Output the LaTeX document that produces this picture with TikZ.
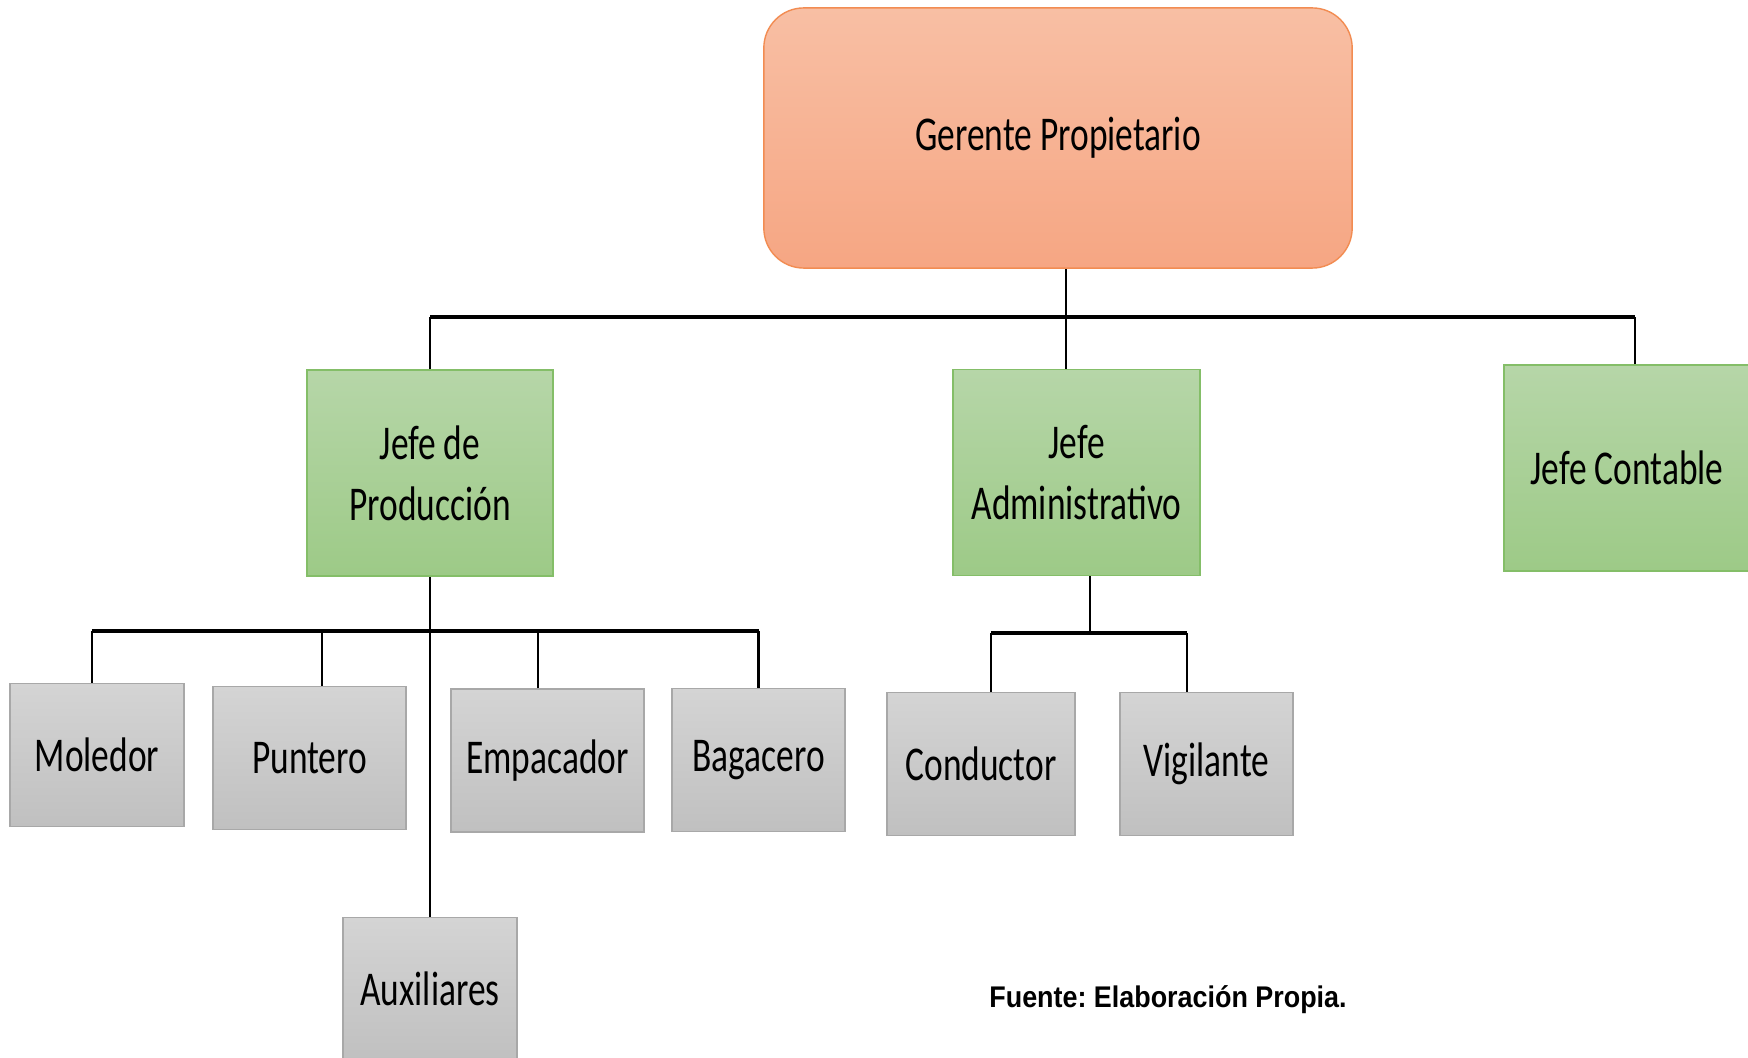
\documentclass[tikz,border=0pt]{standalone}
\usepackage{fontspec}
\setmainfont{Carlito}[FakeStretch=0.73]
\newfontfamily\srcfont{Liberation Sans}[FakeStretch=0.9]
\definecolor{orangetop}{RGB}{248,191,164}
\definecolor{orangebot}{RGB}{246,166,131}
\definecolor{orangeline}{RGB}{242,140,82}
\definecolor{greentop}{RGB}{182,214,168}
\definecolor{greenbot}{RGB}{157,202,135}
\definecolor{greenline}{RGB}{132,190,104}
\definecolor{graytop}{RGB}{212,212,212}
\definecolor{graybot}{RGB}{192,192,192}
\definecolor{grayline}{RGB}{168,168,168}

\begin{document}
\frenchspacing
\begin{tikzpicture}[
  x=0.01cm,y=-0.01cm,
  font=\fontsize{13.8}{17.4}\selectfont,
  boss/.style={rectangle,draw=orangeline,thin,top color=orangetop,bottom color=orangebot,rounded corners=0.4cm,minimum width=5.88cm,minimum height=2.6cm,inner sep=0pt},
  chief/.style={rectangle,draw=greenline,thin,top color=greentop,bottom color=greenbot,minimum width=2.46cm,minimum height=2.06cm,inner sep=0pt,align=center},
  worker/.style={rectangle,draw=grayline,thin,top color=graytop,bottom color=graybot,minimum height=1.43cm,inner sep=0pt},
  link/.style={draw=black,line width=0.75pt},
  bus/.style={draw=black,line width=1.1pt},
  src/.style={font=\srcfont\bfseries\fontsize{8.5}{10}\selectfont},
]
\useasboundingbox[fill=white] (0,0) rectangle (1748,1058);
\node[boss] (ger) at (1058,138) {Gerente Propietario};
\node[chief] (prod) at (430,473) {Jefe de\\Producción};
\node[chief,minimum width=2.47cm] (adm) at (1076.5,472.5) {Jefe\\Administrativo};
\node[chief] (cont) at (1627,468) {Jefe Contable};
\node[worker,minimum width=1.74cm] (mol) at (97,755) {Moledor};
\node[worker,minimum width=1.93cm] (pun) at (309.5,758) {Puntero};
\node[worker,minimum width=1.93cm] (emp) at (547.5,760.5) {Empacador};
\node[worker,minimum width=1.73cm] (bag) at (758.5,760) {Bagacero};
\node[worker,minimum width=1.74cm] (aux) at (430,989) {Auxiliares};
\node[worker,minimum width=1.88cm] (con) at (981,764) {Conductor};
\node[worker,minimum width=1.73cm] (vig) at (1206.5,764) {Vigilante};
\node[src] (fuente) at (1168,1000) {Fuente: Elaboración Propia.};
\coordinate (bus1) at (0,317);
\coordinate (bus2) at (0,631);
\coordinate (bus3) at (0,633);
\draw[link] ([xshift=0.08cm]ger.south) -- ([xshift=0.08cm]ger.south |- adm.north);
\draw[bus] (prod.north |- bus1) -- ([xshift=0.08cm]cont.north |- bus1);
\draw[link] (prod.north) -- (prod.north |- bus1);
\draw[link] ([xshift=0.08cm]cont.north) -- ([xshift=0.08cm]cont.north |- bus1);
\draw[link] (prod.south) -- (aux.north);
\draw[bus] ([xshift=-0.05cm]mol.north |- bus2) -- (bag.north |- bus2);
\draw[link] ([xshift=-0.05cm]mol.north) -- ([xshift=-0.05cm]mol.north |- bus2);
\draw[link] ([xshift=0.125cm]pun.north) -- ([xshift=0.125cm]pun.north |- bus2);
\draw[link] ([xshift=-0.095cm]emp.north) -- ([xshift=-0.095cm]emp.north |- bus2);
\draw[link] (bag.north) -- (bag.north |- bus2);
\draw[link] ([xshift=0.135cm]adm.south) -- ([xshift=0.135cm]adm.south |- bus3);
\draw[bus] ([xshift=0.1cm]con.north |- bus3) -- ([xshift=-0.195cm]vig.north |- bus3);
\draw[link] ([xshift=0.1cm]con.north) -- ([xshift=0.1cm]con.north |- bus3);
\draw[link] ([xshift=-0.195cm]vig.north) -- ([xshift=-0.195cm]vig.north |- bus3);
\end{tikzpicture}
\end{document}
